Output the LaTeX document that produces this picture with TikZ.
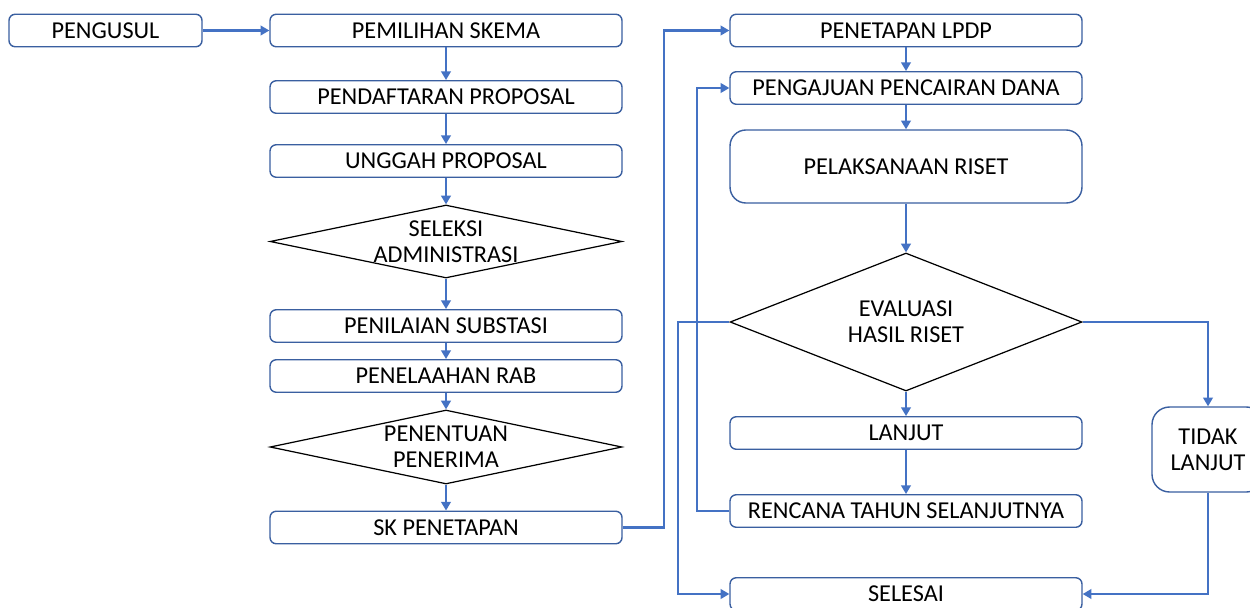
\documentclass[tikz,border=0pt]{standalone}
\usepackage{fontspec}
\setmainfont{Carlito}
\usetikzlibrary{shapes.geometric,arrows.meta}
\definecolor{arrowblue}{HTML}{4472C4}
\definecolor{boxblue}{HTML}{3A5FA0}
\tikzset{
  every node/.style={font=\fontsize{13.8}{14.8}\selectfont, text=black},
  stepbox/.style={draw=boxblue, line width=0.8pt, rounded corners=3.5pt, minimum width=7.04cm, minimum height=0.65cm, inner sep=0pt},
  decide/.style={draw=black, line width=0.7pt, diamond, inner sep=0pt, minimum width=7.04cm},
  arr/.style={draw=arrowblue, line width=1.2pt, -{Triangle[length=5pt,width=5.5pt]}},
}
\begin{document}
\begin{tikzpicture}[x=0.02cm, y=-0.02cm]
\clip (0,0) rectangle (1250,608);
\fill[white] (0,0) rectangle (1250,608);

% left column
\node[stepbox, minimum width=3.86cm] (pengusul) at (105.5,30.5) {PENGUSUL};
\node[stepbox] (skema) at (446,30.5) {PEMILIHAN SKEMA};
\node[stepbox] (daftar) at (446,97) {PENDAFTARAN PROPOSAL};
\node[stepbox] (unggah) at (446,161) {UNGGAH PROPOSAL};
\node[decide, minimum height=1.46cm, label={[align=center]center:SELEKSI\\ADMINISTRASI}] (seleksi) at (446,241.5) {};
\node[stepbox] (nilai) at (446,326) {PENILAIAN SUBSTASI};
\node[stepbox] (telaah) at (446,376) {PENELAAHAN RAB};
\node[decide, minimum height=1.48cm, label={[align=center]center:PENENTUAN\\PENERIMA}] (tentu) at (446,447) {};
\node[stepbox] (sk) at (446,527.5) {SK PENETAPAN};

% right column
\node[stepbox] (lpdp) at (906,30.5) {PENETAPAN LPDP};
\node[stepbox] (cair) at (906,88) {PENGAJUAN PENCAIRAN DANA};
\node[stepbox, minimum height=1.46cm, rounded corners=9pt] (riset) at (906,166.5) {PELAKSANAAN RISET};
\node[decide, minimum height=2.76cm, label={[align=center]center:EVALUASI\\HASIL RISET}] (eval) at (906,322) {};
\node[stepbox] (lanjut) at (906,433) {LANJUT};
\node[stepbox] (rencana) at (906,511) {RENCANA TAHUN SELANJUTNYA};
\node[stepbox] (selesai) at (906,594) {SELESAI};
\node[stepbox, minimum width=2.24cm, minimum height=1.7cm, rounded corners=10pt, align=center] (tidak) at (1208,449.5) {TIDAK\\LANJUT};

% connectors
\draw[arr] (pengusul) -- (skema);
\draw[arr] (skema) -- (daftar);
\draw[arr] (daftar) -- (unggah);
\draw[arr] (unggah) -- (seleksi);
\draw[arr] (seleksi) -- (nilai);
\draw[arr] (nilai) -- (telaah);
\draw[arr] (telaah) -- (tentu);
\draw[arr] (tentu) -- (sk);
\draw[arr] (sk.east) -- ++(41,0) |- (lpdp.west);
\draw[arr] (lpdp) -- (cair);
\draw[arr] (cair) -- (riset);
\draw[arr] (riset) -- (eval);
\draw[arr] (eval) -- (lanjut);
\draw[arr] (lanjut) -- (rencana);
\draw[arr] (rencana.west) -- ++(-32,0) |- (cair.west);
\draw[arr] (eval.west) -- ++(-51,0) |- (selesai.west);
\draw[arr] (eval.east) -| (tidak.north);
\draw[arr] (tidak.south) |- (selesai.east);
\end{tikzpicture}
\end{document}
